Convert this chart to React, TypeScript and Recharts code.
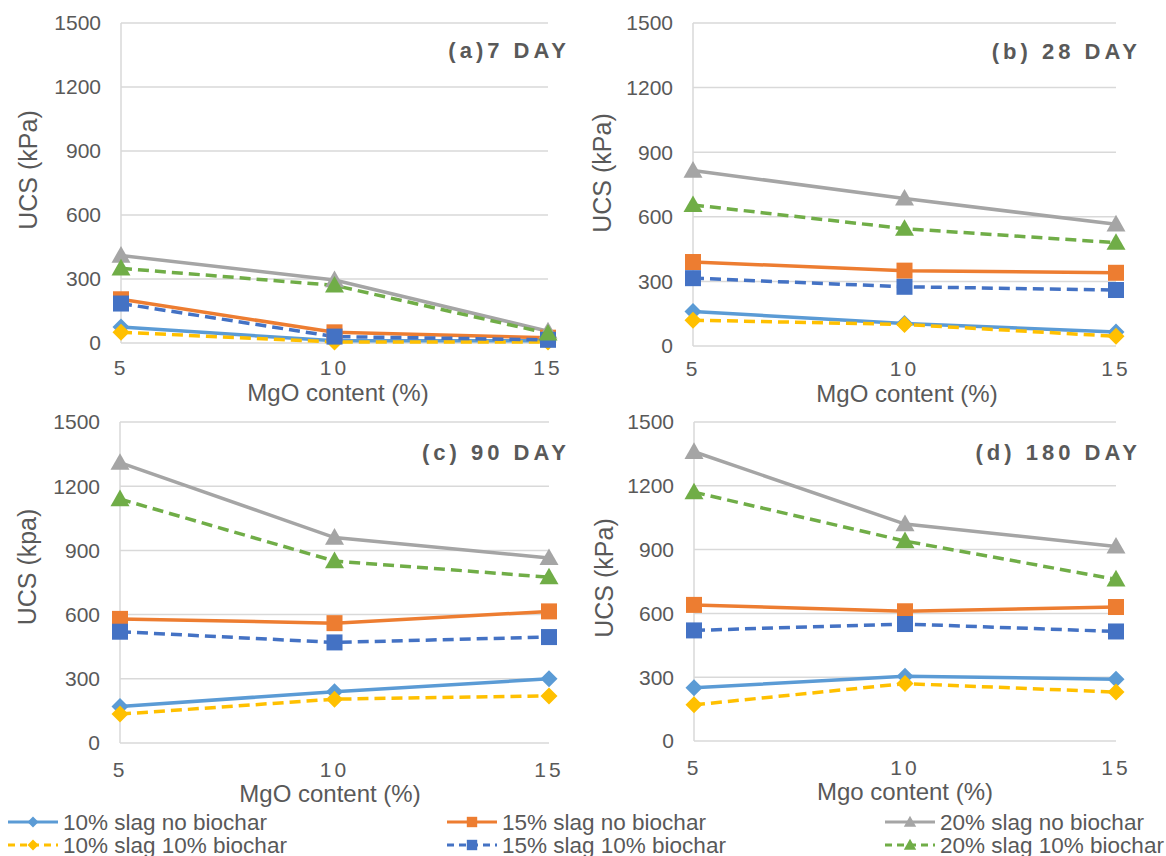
import React from "react";
import { CartesianGrid, Line, LineChart, XAxis, YAxis } from "recharts";

const FONT = '"Liberation Sans", Arial, sans-serif';
const TEXT = "#595959";
const GRID = "#D9D9D9";

// MgO content (%) on the x axis
const mgoContent = [5, 10, 15];
const yTicks = [0, 300, 600, 900, 1200, 1500];

// UCS values (kPa), one array per curing age: 7, 28, 90, 180 days
const slag10NoBiochar = [
  [75, 10, 10],
  [160, 105, 65],
  [170, 240, 300],
  [250, 305, 290],
];
const slag15NoBiochar = [
  [205, 50, 25],
  [390, 350, 340],
  [580, 560, 615],
  [640, 610, 630],
];
const slag20NoBiochar = [
  [410, 295, 55],
  [815, 685, 565],
  [1310, 960, 865],
  [1360, 1020, 915],
];
const slag10Biochar10 = [
  [50, 5, 5],
  [120, 100, 45],
  [135, 205, 220],
  [170, 270, 230],
];
const slag15Biochar10 = [
  [185, 30, 15],
  [315, 275, 260],
  [520, 470, 495],
  [520, 550, 515],
];
const slag20Biochar10 = [
  [350, 270, 45],
  [655, 545, 480],
  [1140, 850, 775],
  [1170, 940, 760],
];

const panelTitles = ["(a)7 DAY", "(b) 28 DAY", "(c) 90 DAY", "(d) 180 DAY"];
const yTitles = ["UCS (kPa)", "UCS (kPa)", "UCS (kpa)", "UCS (kPa)"];
const xTitles = ["MgO content (%)", "MgO content (%)", "MgO content (%)", "Mgo content (%)"];

type Shape = "diamond" | "square" | "triangle";

const series: { key: string; name: string; color: string; dashed: boolean; shape: Shape; values: number[][] }[] = [
  { key: "s10nb", name: "10% slag no biochar", color: "#5B9BD5", dashed: false, shape: "diamond", values: slag10NoBiochar },
  { key: "s15nb", name: "15% slag no biochar", color: "#ED7D31", dashed: false, shape: "square", values: slag15NoBiochar },
  { key: "s20nb", name: "20% slag no biochar", color: "#A5A5A5", dashed: false, shape: "triangle", values: slag20NoBiochar },
  { key: "s10b", name: "10% slag 10% biochar", color: "#FFC000", dashed: true, shape: "diamond", values: slag10Biochar10 },
  { key: "s15b", name: "15% slag 10% biochar", color: "#4472C4", dashed: true, shape: "square", values: slag15Biochar10 },
  { key: "s20b", name: "20% slag 10% biochar", color: "#70AD47", dashed: true, shape: "triangle", values: slag20Biochar10 },
];

// layout of the four panels
const panels = [
  { left: 0, top: 0, width: 580, yw: 121, mt: 23, mr: 32, xh: 57, tm: 11 },
  { left: 580, top: 0, width: 586, yw: 113, mt: 23, mr: 50, xh: 54, tm: 9 },
  { left: 0, top: 400, width: 580, yw: 120, mt: 22, mr: 31, xh: 57, tm: 13 },
  { left: 580, top: 400, width: 586, yw: 114, mt: 22, mr: 50, xh: 59, tm: 13 },
];
const titlePos = [
  { x: 570, y: 58 },
  { x: 1141, y: 59 },
  { x: 570, y: 460 },
  { x: 1141, y: 460 },
];
const yTitlePos = [
  { x: 37, y: 170 },
  { x: 611, y: 173 },
  { x: 36, y: 567 },
  { x: 613, y: 578 },
];
const xTitlePos = [
  { x: 338, y: 401 },
  { x: 907, y: 402 },
  { x: 330, y: 802 },
  { x: 905, y: 800 },
];

function Marker({ cx, cy, shape, color, s = 1 }: { cx: number; cy: number; shape: Shape; color: string; s?: number }) {
  if (shape === "diamond") {
    const r = 8.5 * s;
    return <path d={`M${cx},${cy - r}L${cx + r},${cy}L${cx},${cy + r}L${cx - r},${cy}Z`} fill={color} />;
  }
  if (shape === "square") {
    const h = 8 * s;
    return <rect x={cx - h} y={cy - h} width={h * 2} height={h * 2} fill={color} />;
  }
  const h = 9.5 * s;
  return <path d={`M${cx},${cy - h}L${cx + h},${cy + h * 0.75}L${cx - h},${cy + h * 0.75}Z`} fill={color} />;
}

function Panel({ idx }: { idx: number }) {
  const p = panels[idx];
  const data = mgoContent.map((m, i) => {
    const row: Record<string, number> = { mgo: m };
    series.forEach((s) => (row[s.key] = s.values[idx][i]));
    return row;
  });
  return (
    <div style={{ position: "absolute", left: p.left, top: p.top }}>
      <LineChart width={p.width} height={400} data={data} margin={{ top: p.mt, right: p.mr, left: 0, bottom: 0 }}>
        <CartesianGrid vertical={false} stroke={GRID} strokeWidth={1.5} />
        <XAxis
          dataKey="mgo"
          type="number"
          domain={[5, 15]}
          ticks={mgoContent}
          height={p.xh}
          axisLine={false}
          tickLine={false}
          tickMargin={p.tm}
          tick={{ fill: TEXT, fontSize: 21, fontFamily: FONT, letterSpacing: 3 }}
        />
        <YAxis
          domain={[0, 1500]}
          ticks={yTicks}
          width={p.yw}
          axisLine={{ stroke: GRID, strokeWidth: 1.5 }}
          tickLine={false}
          tickMargin={14}
          tick={{ fill: TEXT, fontSize: 21, fontFamily: FONT }}
        />
        {series.map((s) => (
          <Line
            key={s.key}
            dataKey={s.key}
            stroke={s.color}
            strokeWidth={3.5}
            strokeDasharray={s.dashed ? "11 6" : undefined}
            isAnimationActive={false}
            dot={(d: any) => <Marker key={`${s.key}-${d.index}`} cx={d.cx} cy={d.cy} shape={s.shape} color={s.color} />}
            activeDot={false}
          />
        ))}
      </LineChart>
    </div>
  );
}

const legendCols = [8, 447, 885];
const legendRows = [822, 845];

export default function App() {
  return (
    <div style={{ position: "absolute", left: 0, top: 0, width: 1166, height: 856, background: "#fff", fontFamily: FONT }}>
      {panels.map((_, i) => (
        <Panel key={i} idx={i} />
      ))}
      <svg width={1166} height={856} style={{ position: "absolute", left: 0, top: 0, pointerEvents: "none" }}>
        {panelTitles.map((t, i) => (
          <text key={t} x={titlePos[i].x} y={titlePos[i].y} textAnchor="end" fontSize={22} fontWeight="bold" fill={TEXT} letterSpacing={4} fontFamily={FONT}>
            {t}
          </text>
        ))}
        {yTitles.map((t, i) => (
          <text
            key={i}
            x={yTitlePos[i].x}
            y={yTitlePos[i].y}
            transform={`rotate(-90 ${yTitlePos[i].x} ${yTitlePos[i].y})`}
            textAnchor="middle"
            fontSize={25}
            fill={TEXT}
            fontFamily={FONT}
          >
            {t}
          </text>
        ))}
        {xTitles.map((t, i) => (
          <text key={i} x={xTitlePos[i].x} y={xTitlePos[i].y} textAnchor="middle" fontSize={24} fill={TEXT} fontFamily={FONT}>
            {t}
          </text>
        ))}
        {series.map((s, i) => {
          const col = i % 3;
          const row = Math.floor(i / 3);
          const x = legendCols[col];
          const y = legendRows[row];
          return (
            <g key={s.key}>
              <line x1={x} x2={x + 50} y1={y} y2={y} stroke={s.color} strokeWidth={3} strokeDasharray={s.dashed ? "7 5" : undefined} />
              <Marker cx={x + 25} cy={y} shape={s.shape} color={s.color} s={0.65} />
              <text x={x + 55} y={y + 7.5} fontSize={22.5} fill={TEXT} fontFamily={FONT}>
                {s.name}
              </text>
            </g>
          );
        })}
      </svg>
    </div>
  );
}
